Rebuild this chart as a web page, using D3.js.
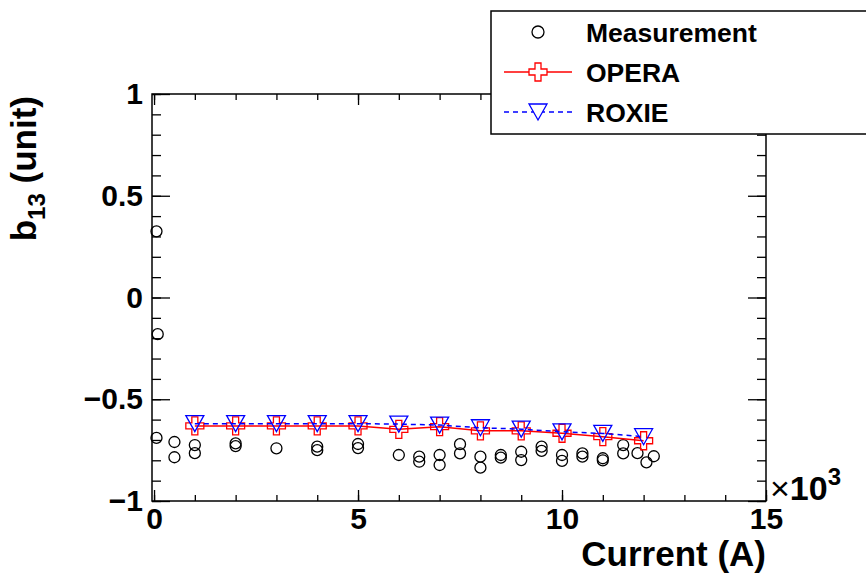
<!DOCTYPE html>
<html>
<head>
<meta charset="utf-8">
<script src="https://d3js.org/d3.v7.min.js"></script>
<style>
    body { margin: 0; background: #fff; }
    svg text { font-family: "Liberation Sans", Arial, Helvetica, sans-serif; font-weight: bold; fill: #000; }
</style>
</head>
<body>
<svg id="chart"></svg>
<script>
    // data (current in A, b13 in units)
    const measCurrent = [60, 90, 60, 500, 500, 1000, 1000, 2000, 2000, 3000, 4000, 4000, 5000, 5000,
        6000, 6500, 6500, 7000, 7000, 7500, 7500, 8000, 8000, 8500, 8500, 9000, 9000, 9500, 9500,
        10000, 10000, 10500, 10500, 11000, 11000, 11500, 11500, 11850, 12070, 12250];
    const measB13 = [0.325, -0.18, -0.69, -0.71, -0.785, -0.725, -0.765, -0.717, -0.73, -0.741, -0.733, -0.75, -0.72, -0.74,
        -0.774, -0.782, -0.807, -0.774, -0.823, -0.721, -0.766, -0.782, -0.836, -0.774, -0.787, -0.758, -0.799, -0.733, -0.754,
        -0.774, -0.803, -0.766, -0.782, -0.79, -0.80, -0.725, -0.766, -0.765, -0.81, -0.78];

    const simCurrent = [1000, 2000, 3000, 4000, 5000, 6000, 7000, 8000, 9000, 10000, 11000, 12000];
    const operaB13 = [-0.631, -0.631, -0.631, -0.631, -0.631, -0.648, -0.635, -0.655, -0.655, -0.667, -0.684, -0.704];
    const roxieB13 = [-0.62, -0.62, -0.62, -0.62, -0.62, -0.622, -0.627, -0.64, -0.647, -0.66, -0.668, -0.684];

    const xMajor = [0, 5000, 10000, 15000];
    const yMajor = [-1, -0.5, 0, 0.5, 1];
    const legendLabels = ["Measurement", "OPERA", "ROXIE"];

    // canvas + frame
    const wtot = 866, htot = 580;
    const frame = { left: 152, right: 766, top: 94, bottom: 501 };

    const svg = d3.select("#chart")
        .attr("width", wtot)
        .attr("height", htot);

    const x = d3.scaleLinear().domain([-50, 15000]).range([frame.left, frame.right]);
    const y = d3.scaleLinear().domain([-1, 1]).range([frame.bottom, frame.top]);

    const xMinor = d3.range(0, 15001, 1000);
    const yMinor = d3.range(-10, 11).map(d => d / 10);

    // axes (ticks point inside, like ROOT)
    function drawAxis(axis, tx, ty, showLabels) {
        const g = svg.append("g")
            .attr("transform", `translate(${tx},${ty})`)
            .call(axis);
        g.select(".domain").remove();
        g.selectAll(".tick line").attr("stroke", "#000").attr("stroke-width", 1.3);
        g.selectAll("text").style("font-size", showLabels ? "30px" : "0px");
        return g;
    }

    // bottom
    drawAxis(d3.axisBottom(x).tickValues(xMinor).tickSize(-6).tickFormat(""), 0, frame.bottom, false);
    drawAxis(d3.axisBottom(x).tickValues(xMajor).tickSize(-11).tickPadding(7)
        .tickFormat(d => d / 1000), 0, frame.bottom, true);
    // top
    drawAxis(d3.axisTop(x).tickValues(xMinor).tickSize(-6).tickFormat(""), 0, frame.top, false);
    drawAxis(d3.axisTop(x).tickValues(xMajor).tickSize(-11).tickFormat(""), 0, frame.top, false);
    // left
    drawAxis(d3.axisLeft(y).tickValues(yMinor).tickSize(-9).tickFormat(""), frame.left, 0, false);
    drawAxis(d3.axisLeft(y).tickValues(yMajor).tickSize(-18).tickPadding(9)
        .tickFormat(d3.format("")), frame.left, 0, true);
    // right
    drawAxis(d3.axisRight(y).tickValues(yMinor).tickSize(-9).tickFormat(""), frame.right, 0, false);
    drawAxis(d3.axisRight(y).tickValues(yMajor).tickSize(-18).tickFormat(""), frame.right, 0, false);

    svg.append("rect")
        .attr("x", frame.left).attr("y", frame.top)
        .attr("width", frame.right - frame.left)
        .attr("height", frame.bottom - frame.top)
        .attr("fill", "none").attr("stroke", "#000").attr("stroke-width", 1.5);

    // axis titles
    svg.append("text")
        .attr("x", frame.right).attr("y", 566)
        .attr("text-anchor", "end")
        .style("font-size", "35px")
        .text("Current (A)");

    const yTitle = svg.append("text")
        .attr("transform", `translate(36,96) rotate(-90)`)
        .attr("text-anchor", "end")
        .style("font-size", "35px");
    yTitle.append("tspan").text("b");
    yTitle.append("tspan").attr("dy", 9).style("font-size", "24px").text("13");
    yTitle.append("tspan").attr("dy", -9).text(" (unit)");

    const expo = svg.append("text")
        .attr("x", 770).attr("y", 500)
        .style("font-size", "34px");
    expo.append("tspan").style("font-weight", "normal").text("\u00d7");
    expo.append("tspan").text("10");
    expo.append("tspan").attr("dy", -15).style("font-size", "24px").text("3");

    // marker shapes
    const crossPts = (s, a) => [[-a, -s], [a, -s], [a, -a], [s, -a], [s, a], [a, a], [a, s], [-a, s], [-a, a], [-s, a], [-s, -a], [-a, -a]];
    const crossPath = "M" + crossPts(9, 3).map(p => p.join(",")).join("L") + "Z";
    const triPath = "M-9,-8L9,-8L0,8Z";

    // measurement circles
    svg.append("g").selectAll("circle")
        .data(measCurrent.map((c, i) => [c, measB13[i]]))
        .join("circle")
        .attr("cx", d => x(d[0]))
        .attr("cy", d => y(d[1]))
        .attr("r", 5.5)
        .attr("fill", "none")
        .attr("stroke", "#000")
        .attr("stroke-width", 1.3);

    // OPERA
    const operaData = simCurrent.map((c, i) => [c, operaB13[i]]);
    const roxieData = simCurrent.map((c, i) => [c, roxieB13[i]]);
    const line = d3.line().x(d => x(d[0])).y(d => y(d[1]));

    svg.append("path")
        .datum(operaData)
        .attr("d", line)
        .attr("fill", "none")
        .attr("stroke", "#ff0000")
        .attr("stroke-width", 1.5);
    svg.append("g").selectAll("path")
        .data(operaData)
        .join("path")
        .attr("transform", d => `translate(${x(d[0])},${y(d[1])})`)
        .attr("d", crossPath)
        .attr("fill", "none")
        .attr("stroke", "#ff0000")
        .attr("stroke-width", 1.3);

    // ROXIE
    svg.append("path")
        .datum(roxieData)
        .attr("d", line)
        .attr("fill", "none")
        .attr("stroke", "#0000ff")
        .attr("stroke-width", 1.5)
        .attr("stroke-dasharray", "5,4");
    svg.append("g").selectAll("path")
        .data(roxieData)
        .join("path")
        .attr("transform", d => `translate(${x(d[0])},${y(d[1])})`)
        .attr("d", triPath)
        .attr("fill", "none")
        .attr("stroke", "#0000ff")
        .attr("stroke-width", 1.3);

    // legend box
    const legend = svg.append("g");
    legend.append("rect")
        .attr("x", 491).attr("y", 11)
        .attr("width", 400).attr("height", 123)
        .attr("fill", "#fff").attr("stroke", "#000").attr("stroke-width", 1.5);

    const rowY = [32, 72, 112];
    legend.selectAll("text.lab")
        .data(legendLabels)
        .join("text")
        .attr("class", "lab")
        .attr("x", 586)
        .attr("y", (d, i) => rowY[i])
        .attr("dy", "0.36em")
        .style("font-size", "26.5px")
        .text(d => d);

    legend.append("circle")
        .attr("cx", 538).attr("cy", rowY[0]).attr("r", 6)
        .attr("fill", "none").attr("stroke", "#000").attr("stroke-width", 1.3);

    legend.append("line")
        .attr("x1", 504).attr("x2", 572).attr("y1", rowY[1]).attr("y2", rowY[1])
        .attr("stroke", "#ff0000").attr("stroke-width", 1.5);
    legend.append("path")
        .attr("transform", `translate(538,${rowY[1]})`)
        .attr("d", crossPath)
        .attr("fill", "#fff").attr("stroke", "#ff0000").attr("stroke-width", 1.3);

    legend.append("line")
        .attr("x1", 504).attr("x2", 572).attr("y1", rowY[2]).attr("y2", rowY[2])
        .attr("stroke", "#0000ff").attr("stroke-width", 1.5)
        .attr("stroke-dasharray", "5,4");
    legend.append("path")
        .attr("transform", `translate(538,${rowY[2]})`)
        .attr("d", triPath)
        .attr("fill", "#fff").attr("stroke", "#0000ff").attr("stroke-width", 1.3);
</script>
</body>
</html>
